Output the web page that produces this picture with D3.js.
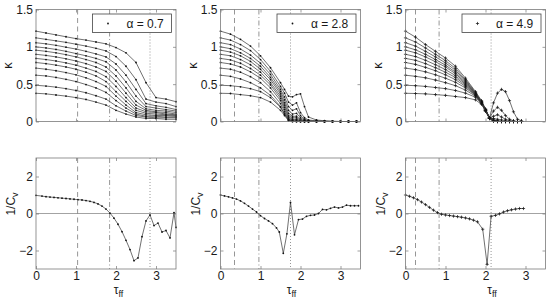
<!DOCTYPE html>
<html>
<head>
<meta charset="utf-8">
<script src="https://cdn.jsdelivr.net/npm/d3@7"></script>
<style>
  body { margin: 0; background: #fff; }
  text { font-family: "Liberation Sans", Arial, sans-serif; fill: #1a1a1a; }
</style>
</head>
<body>
<div id="chart"></div>
<script>
// ---- data ----
var alphas = ["0.7", "2.8", "4.9"];

// kappa curves (12 per panel)
var kappaTau1 = [0, 0.25, 0.5, 0.75, 1, 1.25, 1.5, 1.75, 2, 2.25, 2.5, 2.75, 3, 3.25, 3.5];
var kappa1 = [
  [1.21, 1.185, 1.16, 1.135, 1.11, 1.09, 1.065, 1.04, 0.99, 0.92, 0.79, 0.52, 0.32, 0.30, 0.265],
  [1.12, 1.10, 1.08, 1.06, 1.035, 1.01, 0.98, 0.945, 0.87, 0.74, 0.56, 0.30, 0.26, 0.24, 0.20],
  [1.055, 1.04, 1.02, 0.995, 0.97, 0.94, 0.905, 0.865, 0.77, 0.62, 0.43, 0.24, 0.21, 0.19, 0.16],
  [1.0, 0.985, 0.965, 0.94, 0.91, 0.88, 0.845, 0.80, 0.69, 0.53, 0.34, 0.20, 0.18, 0.16, 0.14],
  [0.955, 0.94, 0.92, 0.895, 0.865, 0.83, 0.79, 0.73, 0.61, 0.45, 0.27, 0.17, 0.15, 0.14, 0.12],
  [0.90, 0.885, 0.865, 0.84, 0.81, 0.775, 0.73, 0.67, 0.54, 0.38, 0.22, 0.15, 0.13, 0.12, 0.10],
  [0.845, 0.83, 0.81, 0.785, 0.755, 0.715, 0.67, 0.60, 0.47, 0.32, 0.18, 0.13, 0.12, 0.10, 0.09],
  [0.79, 0.775, 0.755, 0.73, 0.70, 0.66, 0.61, 0.535, 0.40, 0.27, 0.15, 0.11, 0.10, 0.09, 0.08],
  [0.715, 0.70, 0.68, 0.655, 0.625, 0.585, 0.535, 0.47, 0.34, 0.22, 0.12, 0.09, 0.08, 0.08, 0.07],
  [0.62, 0.61, 0.59, 0.565, 0.535, 0.495, 0.45, 0.39, 0.28, 0.18, 0.10, 0.07, 0.07, 0.06, 0.06],
  [0.485, 0.475, 0.46, 0.44, 0.415, 0.385, 0.345, 0.30, 0.21, 0.14, 0.08, 0.06, 0.05, 0.05, 0.05],
  [0.378, 0.37, 0.355, 0.34, 0.32, 0.295, 0.26, 0.22, 0.15, 0.10, 0.06, 0.04, 0.04, 0.03, 0.03]
];

var kappaTau2 = [0, 0.25, 0.5, 0.75, 1, 1.25, 1.5, 1.6, 1.7, 1.8, 1.9, 2.0, 2.1, 2.2, 2.4, 2.6, 2.8, 3.0, 3.2, 3.4];
var kappa2 = [
  [1.21, 1.17, 1.10, 1.01, 0.88, 0.72, 0.52, 0.43, 0.34, 0.33, 0.36, 0.37, 0.20, 0.06, 0.02, 0.01, 0.005, 0, 0, 0],
  [1.12, 1.09, 1.03, 0.95, 0.83, 0.67, 0.47, 0.38, 0.26, 0.22, 0.25, 0.12, 0.05, 0.02, 0.01, 0.005, 0, 0, 0, 0],
  [1.055, 1.03, 0.97, 0.89, 0.78, 0.63, 0.43, 0.33, 0.20, 0.15, 0.17, 0.08, 0.03, 0.01, 0.005, 0, 0, 0, 0, 0],
  [1.0, 0.975, 0.92, 0.845, 0.74, 0.59, 0.40, 0.29, 0.15, 0.10, 0.11, 0.05, 0.02, 0.01, 0, 0, 0, 0, 0, 0],
  [0.955, 0.93, 0.88, 0.805, 0.70, 0.56, 0.37, 0.25, 0.11, 0.07, 0.07, 0.03, 0.01, 0, 0, 0, 0, 0, 0, 0],
  [0.90, 0.88, 0.83, 0.76, 0.66, 0.52, 0.34, 0.22, 0.08, 0.05, 0.05, 0.02, 0.01, 0, 0, 0, 0, 0, 0, 0],
  [0.845, 0.825, 0.78, 0.71, 0.62, 0.49, 0.31, 0.19, 0.06, 0.03, 0.03, 0.01, 0, 0, 0, 0, 0, 0, 0, 0],
  [0.79, 0.77, 0.73, 0.665, 0.58, 0.45, 0.28, 0.16, 0.04, 0.02, 0.02, 0.01, 0, 0, 0, 0, 0, 0, 0, 0],
  [0.715, 0.70, 0.66, 0.60, 0.52, 0.40, 0.24, 0.13, 0.03, 0.01, 0.01, 0, 0, 0, 0, 0, 0, 0, 0, 0],
  [0.62, 0.605, 0.57, 0.52, 0.45, 0.35, 0.20, 0.10, 0.02, 0.01, 0, 0, 0, 0, 0, 0, 0, 0, 0, 0],
  [0.485, 0.48, 0.465, 0.44, 0.40, 0.32, 0.19, 0.10, 0.02, 0, 0, 0, 0, 0, 0, 0, 0, 0, 0, 0],
  [0.378, 0.375, 0.36, 0.345, 0.32, 0.26, 0.15, 0.08, 0.01, 0, 0, 0, 0, 0, 0, 0, 0, 0, 0, 0]
];

var kappaTau3 = [0, 0.25, 0.5, 0.75, 1, 1.25, 1.5, 1.75, 1.9, 2.0, 2.1, 2.2, 2.3, 2.4, 2.5, 2.6, 2.7, 2.8, 2.9];
var kappa3 = [
  [1.21, 1.13, 1.03, 0.94, 0.85, 0.74, 0.58, 0.40, 0.28, 0.17, 0.05, 0.25, 0.38, 0.43, 0.40, 0.28, 0.13, 0.03, 0.01],
  [1.12, 1.065, 0.985, 0.90, 0.815, 0.71, 0.56, 0.39, 0.27, 0.16, 0.05, 0.14, 0.19, 0.15, 0.08, 0.03, 0.01, 0, 0],
  [1.055, 1.01, 0.94, 0.865, 0.785, 0.685, 0.545, 0.38, 0.265, 0.16, 0.05, 0.07, 0.09, 0.06, 0.03, 0.01, 0, 0, 0],
  [1.0, 0.96, 0.90, 0.83, 0.755, 0.66, 0.53, 0.375, 0.26, 0.155, 0.05, 0.04, 0.03, 0.02, 0.01, 0, 0, 0, 0],
  [0.955, 0.92, 0.865, 0.80, 0.73, 0.64, 0.515, 0.37, 0.26, 0.155, 0.05, 0.02, 0.01, 0, 0, 0, 0, 0, 0],
  [0.90, 0.87, 0.82, 0.76, 0.695, 0.615, 0.50, 0.365, 0.255, 0.15, 0.045, 0.02, 0.01, 0, 0, 0, 0, 0, 0],
  [0.845, 0.82, 0.775, 0.72, 0.66, 0.59, 0.485, 0.36, 0.255, 0.15, 0.045, 0.01, 0, 0, 0, 0, 0, 0, 0],
  [0.79, 0.765, 0.725, 0.68, 0.625, 0.56, 0.47, 0.355, 0.25, 0.15, 0.045, 0.01, 0, 0, 0, 0, 0, 0, 0],
  [0.715, 0.695, 0.665, 0.625, 0.58, 0.525, 0.45, 0.35, 0.25, 0.145, 0.04, 0.01, 0, 0, 0, 0, 0, 0, 0],
  [0.62, 0.605, 0.585, 0.555, 0.52, 0.48, 0.42, 0.34, 0.245, 0.145, 0.04, 0.01, 0, 0, 0, 0, 0, 0, 0],
  [0.485, 0.48, 0.47, 0.455, 0.44, 0.415, 0.38, 0.325, 0.24, 0.14, 0.04, 0.01, 0, 0, 0, 0, 0, 0, 0],
  [0.378, 0.375, 0.37, 0.36, 0.35, 0.335, 0.32, 0.29, 0.23, 0.14, 0.04, 0.01, 0, 0, 0, 0, 0, 0, 0]
];

// 1/Cv curves
var cvTau1 = [0, 0.15, 0.25, 0.35, 0.45, 0.55, 0.65, 0.75, 0.85, 0.95, 1.05, 1.15, 1.25, 1.35, 1.45, 1.55, 1.65, 1.75,
              1.85, 1.95, 2.05, 2.15, 2.25, 2.35, 2.45, 2.55, 2.65, 2.75, 2.85, 2.95, 3.05, 3.15, 3.25, 3.35, 3.45, 3.5];
var invCv1 = [0.98, 0.94, 0.91, 0.89, 0.87, 0.85, 0.83, 0.81, 0.79, 0.77, 0.75, 0.73, 0.70, 0.66, 0.60, 0.52, 0.40, 0.24,
              0.02, -0.25, -0.58, -0.98, -1.45, -1.95, -2.55, -2.4, -1.25, -0.4, -0.08, -0.65, -0.52, -1.0, -0.92, -1.32, 0.05, -0.75];

var cvTau2 = [0, 0.1, 0.2, 0.3, 0.4, 0.5, 0.6, 0.7, 0.8, 0.9, 1.0, 1.1, 1.2, 1.3, 1.4, 1.47, 1.57, 1.66, 1.75, 1.85,
              1.95, 2.05, 2.15, 2.25, 2.35, 2.45, 2.55, 2.65, 2.75, 2.85, 2.95, 3.05, 3.15, 3.25, 3.35, 3.45];
var invCv2 = [1.0, 0.95, 0.9, 0.84, 0.78, 0.68, 0.55, 0.40, 0.24, 0.08, -0.12, -0.27, -0.40, -0.55, -0.78, -1.0, -2.15, -1.1, 0.6, -1.15,
              -0.33, -0.3, -0.15, -0.1, -0.08, 0.0, 0.22, 0.2, 0.28, 0.35, 0.3, 0.35, 0.45, 0.42, 0.42, 0.42];

var cvTau3 = [0, 0.1, 0.2, 0.3, 0.4, 0.5, 0.6, 0.7, 0.8, 0.9, 1.0, 1.1, 1.2, 1.3, 1.4, 1.5, 1.6, 1.7, 1.8, 1.93,
              2.04, 2.14, 2.25, 2.35, 2.45, 2.55, 2.65, 2.75, 2.85, 2.95];
var invCv3 = [1.0, 0.93, 0.85, 0.75, 0.62, 0.48, 0.33, 0.18, 0.05, -0.04, -0.08, -0.11, -0.14, -0.17, -0.20, -0.24, -0.29, -0.36, -0.45, -0.85,
              -2.75, -0.15, -0.1, -0.02, 0.08, 0.15, 0.2, 0.24, 0.27, 0.27];

// reference lines: dashed, dash-dot, dotted
var dashedAt = [1.04, 0.35, 0.25];
var dashDotAt = [1.84, 0.96, 0.84];
var dottedAt = [2.85, 1.75, 2.14];

var kappaTicks = [0, 0.5, 1, 1.5];
var cvTicks = [-2, 0, 2];
var tauTicks = [0, 1, 2, 3];

// ---- layout ----
var W = 550, H = 301;
var panelX = [36, 220.5, 405.5], panelW = 140;
var topY = 9.5, topH = 112;
var botY = 158, botH = 111;
var xLabelX = [118.5, 291.5, 492];
var markerType = ["dot", "dot", "plus"];
var fmt = d3.format("~g");

var svg = d3.select("#chart").append("svg")
    .attr("width", W).attr("height", H);

var kappaTaus = [kappaTau1, kappaTau2, kappaTau3];
var kappas = [kappa1, kappa2, kappa3];
var cvTaus = [cvTau1, cvTau2, cvTau3];
var invCvs = [invCv1, invCv2, invCv3];

function drawMarkers(g, pts, x, y, type) {
  if (type === "dot") {
    g.selectAll(null).data(pts).enter().append("circle")
      .attr("cx", function(d) { return x(d[0]); })
      .attr("cy", function(d) { return y(d[1]); })
      .attr("r", 0.9)
      .attr("fill", "#111");
  } else {
    g.selectAll(null).data(pts).enter().append("path")
      .attr("d", function(d) {
        var cx = x(d[0]), cy = y(d[1]);
        return "M" + (cx - 1.6) + "," + cy + "h3.2M" + cx + "," + (cy - 1.6) + "v3.2";
      })
      .attr("stroke", "#111").attr("stroke-width", 0.7);
  }
}

function refLines(g, i, x, h) {
  var styles = [[dashedAt[i], "5,3.5"], [dashDotAt[i], "5,2.5,1,2.5"], [dottedAt[i], "1,2"]];
  styles.forEach(function(s) {
    g.append("line")
      .attr("x1", x(s[0])).attr("x2", x(s[0]))
      .attr("y1", 0).attr("y2", h)
      .attr("stroke", "#8a8a8a").attr("stroke-width", 0.9)
      .attr("stroke-dasharray", s[1]);
  });
}

function styleAxis(sel) {
  sel.select(".domain").remove();
  sel.selectAll(".tick line").attr("stroke", "#777").attr("stroke-width", 0.7);
  sel.selectAll(".tick text").style("font-size", "12px").attr("fill", "#1a1a1a");
}

function frame(g, w, h) {
  g.append("rect").attr("width", w).attr("height", h)
    .attr("fill", "none").attr("stroke", "#7a7a7a").attr("stroke-width", 0.8);
}

for (var i = 0; i < 3; i++) {
  var x = d3.scaleLinear().domain([0, 3.5]).range([0, panelW]);

  // ---- top: kappa ----
  var yk = d3.scaleLinear().domain([0, 1.5]).range([topH, 0]);
  var gt = svg.append("g").attr("transform", "translate(" + panelX[i] + "," + topY + ")");

  refLines(gt, i, x, topH);

  var line = d3.line().x(function(d) { return x(d[0]); }).y(function(d) { return yk(d[1]); });
  kappas[i].forEach(function(curve) {
    var pts = kappaTaus[i].map(function(t, j) { return [t, curve[j]]; });
    gt.append("path").datum(pts).attr("d", line)
      .attr("fill", "none").attr("stroke", "#333").attr("stroke-width", 0.7);
    drawMarkers(gt, pts, x, yk, markerType[i]);
  });

  gt.append("g").call(d3.axisLeft(yk).tickValues(kappaTicks).tickSize(-3).tickPadding(3)
      .tickFormat(fmt)).call(styleAxis);
  gt.append("g").attr("transform", "translate(" + panelW + ",0)")
    .call(d3.axisRight(yk).tickValues(kappaTicks).tickSize(-3).tickFormat("")).call(styleAxis);
  gt.append("g").attr("transform", "translate(0," + topH + ")")
    .call(d3.axisBottom(x).tickValues(tauTicks).tickSize(-3).tickFormat("")).call(styleAxis);
  gt.append("g").call(d3.axisTop(x).tickValues(tauTicks).tickSize(-3).tickFormat("")).call(styleAxis);
  frame(gt, panelW, topH);

  // legend
  var lg = gt.append("g").attr("transform", "translate(" + (panelW - 83.5) + ",4.5)");
  lg.append("rect").attr("width", 79).attr("height", 18.5)
    .attr("fill", "#fff").attr("stroke", "#444").attr("stroke-width", 0.8);
  drawMarkers(lg, [[0, 0]], function() { return 15.5; }, function() { return 9.5; }, markerType[i]);
  lg.append("text").attr("x", 34).attr("y", 13.5).style("font-size", "12px")
    .text("\u03b1 = " + alphas[i]);

  // y label
  svg.append("text")
    .attr("transform", "translate(" + (panelX[i] - 24) + "," + (topY + 56) + ") rotate(-90)")
    .attr("text-anchor", "middle").style("font-size", "13px")
    .text("\u03ba");

  // ---- bottom: 1/Cv ----
  var yc = d3.scaleLinear().domain([-3, 3]).range([botH, 0]);
  var gb = svg.append("g").attr("transform", "translate(" + panelX[i] + "," + botY + ")");

  gb.append("line").attr("x1", 0).attr("x2", panelW)
    .attr("y1", yc(0)).attr("y2", yc(0))
    .attr("stroke", "#999").attr("stroke-width", 0.9);
  refLines(gb, i, x, botH);

  var cvPts = cvTaus[i].map(function(t, j) { return [t, invCvs[i][j]]; });
  var cvLine = d3.line().x(function(d) { return x(d[0]); }).y(function(d) { return yc(d[1]); });
  gb.append("path").datum(cvPts).attr("d", cvLine)
    .attr("fill", "none").attr("stroke", "#333").attr("stroke-width", 0.7);
  drawMarkers(gb, cvPts, x, yc, markerType[i]);

  gb.append("g").call(d3.axisLeft(yc).tickValues(cvTicks).tickSize(-3).tickPadding(3)
      .tickFormat(fmt)).call(styleAxis);
  gb.append("g").attr("transform", "translate(" + panelW + ",0)")
    .call(d3.axisRight(yc).tickValues(cvTicks).tickSize(-3).tickFormat("")).call(styleAxis);
  gb.append("g").attr("transform", "translate(0," + botH + ")")
    .call(d3.axisBottom(x).tickValues(tauTicks).tickSize(-3).tickPadding(2)
      .tickFormat(fmt)).call(styleAxis);
  gb.append("g").call(d3.axisTop(x).tickValues(tauTicks).tickSize(-3).tickFormat("")).call(styleAxis);
  frame(gb, panelW, botH);

  // y label 1/Cv
  var yl = svg.append("text")
    .attr("transform", "translate(" + (panelX[i] - 21) + "," + (botY + 46) + ") rotate(-90)")
    .attr("text-anchor", "middle").style("font-size", "12px");
  yl.append("tspan").text("1/C");
  yl.append("tspan").attr("dy", 3).style("font-size", "9px").text("v");

  // x label tau_ff
  var xl = svg.append("text")
    .attr("x", xLabelX[i]).attr("y", 294)
    .attr("text-anchor", "middle").style("font-size", "12px");
  xl.append("tspan").text("\u03c4");
  xl.append("tspan").attr("dy", 3).style("font-size", "9px").text("ff");
}
</script>
</body>
</html>
